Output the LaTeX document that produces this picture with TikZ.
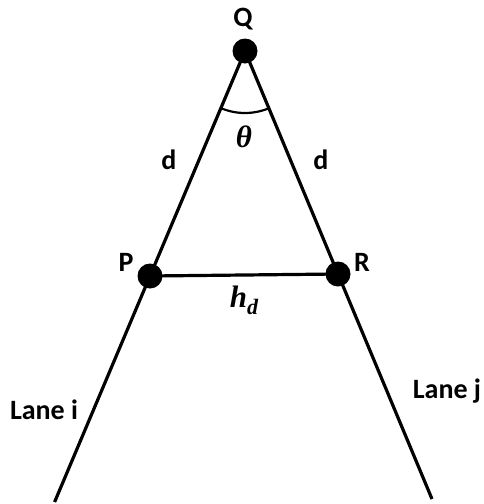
\documentclass[tikz,border=0pt]{standalone}
\usepackage{fontspec}
\setmainfont{Carlito}
\newfontfamily\symfont{Liberation Serif}
\usetikzlibrary{calc}
\begin{document}
\begin{tikzpicture}[x=1pt,y=-1pt,
  lbl/.style={font=\fontsize{28}{32}\selectfont\bfseries, inner sep=0pt},
  mlbl/.style={font=\symfont\fontsize{31}{34}\selectfont\bfseries\itshape, inner sep=0pt},
  dot/.style={circle, fill=black, minimum size=25pt, inner sep=0pt},
  lane/.style={line width=3.2pt}]
\useasboundingbox (0,0) rectangle (484,504);
\node[dot] (Q) at (245,51) {};
\node[dot] (P) at (150,276) {};
\node[dot] (R) at (338,274) {};
\coordinate (Li) at (54.6,502);
\coordinate (Lj) at (432,499);
\draw[lane] (Q.center) -- (P.center) -- (Li);
\draw[lane] (Q.center) -- (R.center) -- (Lj);
\draw[lane] (P.center) -- (R.center);
\draw[line width=2.2pt] ($(Q.center)!62pt!(P.center)$) arc[start angle=247.1, end angle=292.6, radius=62pt];
\node[lbl] (tQ) at (243,19) {Q};
\node[mlbl] (th) at (244,137) {θ};
\node[lbl] (d1) at (169,160) {d};
\node[lbl] (d2) at (321,160) {d};
\node[lbl] (tP) at (126,262) {P};
\node[lbl] (tR) at (362,262) {R};
\node[mlbl] (hd) at (244,300) {h\raisebox{-0.22em}{\fontsize{22}{24}\selectfont d}};
\node[lbl] (li) at (44,410) {Lane i};
\node[lbl] (lj) at (447,391) {Lane j};
\end{tikzpicture}
\end{document}
